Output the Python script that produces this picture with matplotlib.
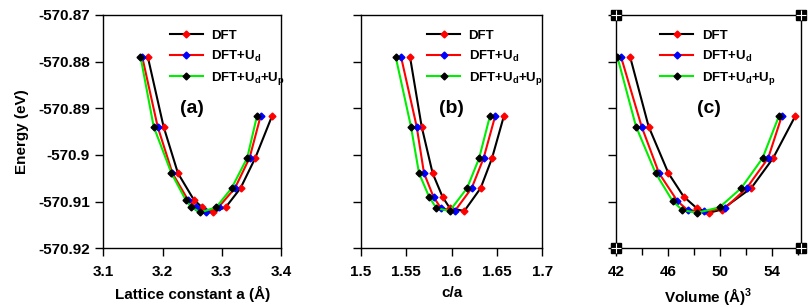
import matplotlib
matplotlib.use("Agg")
import matplotlib.pyplot as plt
from matplotlib.ticker import FixedLocator, FixedFormatter, MultipleLocator

plt.rcParams['font.family'] = ['Liberation Sans', 'DejaVu Sans']
plt.rcParams['font.weight'] = 'bold'
plt.rcParams['mathtext.fontset'] = 'custom'
plt.rcParams['mathtext.rm'] = 'Liberation Sans:bold'
plt.rcParams['mathtext.bf'] = 'Liberation Sans:bold'
plt.rcParams['mathtext.it'] = 'Liberation Sans:bold'

series_labels = ["DFT", r"DFT+U$_\mathbf{d}$", r"DFT+U$_\mathbf{d}$+U$_\mathbf{p}$"]
line_colors = ["black", "red", "#00ee00"]
marker_colors = ["red", "blue", "black"]

# Panel (a): lattice constant a (Å)
a_dft = [3.175, 3.2017, 3.226, 3.2528, 3.2667, 3.2845, 3.3067, 3.3317, 3.3567, 3.385]
a_ud = [3.1656, 3.1917, 3.2167, 3.2428, 3.2567, 3.274, 3.2945, 3.3223, 3.347, 3.3657]
a_udp = [3.1628, 3.185, 3.215, 3.239, 3.2483, 3.264, 3.2907, 3.3167, 3.343, 3.3595]
E_a = [-570.8789, -570.8939, -570.9039, -570.9096, -570.9112, -570.9123,
       -570.9112, -570.9071, -570.9006, -570.8916]

# Panel (b): c/a
ca_dft = [1.554, 1.5669, 1.579, 1.590, 1.598, 1.614, 1.632, 1.6445, 1.6577]
ca_ud = [1.5441, 1.5614, 1.5695, 1.5800, 1.5882, 1.6035, 1.6221, 1.6352, 1.6481]
ca_udp = [1.5382, 1.5551, 1.564, 1.5752, 1.5832, 1.5978, 1.6170, 1.6303, 1.6423]
E_b = [-570.8789, -570.8939, -570.9039, -570.9090, -570.9114, -570.9120,
       -570.9071, -570.9007, -570.8916]

# Panel (c): volume (Å^3)
v_dft = [43.08, 44.51, 46.03, 47.2, 48.21, 49.13, 50.13, 52.4, 54.08, 55.8]
v_ud = [42.38, 43.97, 45.31, 46.73, 47.5, 48.8, 50.38, 52.05, 53.7, 54.76]
v_udp = [42.1, 43.54, 45.05, 46.36, 47.1, 48.24, 49.97, 51.63, 53.27, 54.54]
E_c_dft = [-570.8789, -570.8939, -570.9039, -570.9089, -570.9114, -570.9124,
           -570.9117, -570.9071, -570.9007, -570.8916]
E_c_ud = [-570.8789, -570.8939, -570.9039, -570.9099, -570.9118, -570.9121,
          -570.9114, -570.9071, -570.9007, -570.8916]
E_c_udp = [-570.8789, -570.8939, -570.9039, -570.9099, -570.9118, -570.9124,
           -570.9112, -570.9071, -570.9007, -570.8916]

y_ticks = [-570.92, -570.91, -570.90, -570.89, -570.88, -570.87]
y_ticklabels = ["-570.92", "-570.91", "-570.9", "-570.89", "-570.88", "-570.87"]

xa_ticks = [3.1, 3.2, 3.3, 3.4]
xa_labels = ["3.1", "3.2", "3.3", "3.4"]
xb_ticks = [1.5, 1.55, 1.6, 1.65, 1.7]
xb_labels = ["1.5", "1.55", "1.6", "1.65", "1.7"]
xc_ticks = [42, 46, 50, 54]
xc_labels = ["42", "46", "50", "54"]

W, H = 812, 307
fig = plt.figure(figsize=(W / 100, H / 100), dpi=100)

def ax_at(x0, x1, y0=15, y1=248.3):
    return fig.add_axes([x0 / W, 1 - y1 / H, (x1 - x0) / W, (y1 - y0) / H])

axA = ax_at(103.3, 281)
axB = ax_at(361, 542.3)
axC = ax_at(616, 801)

panels = [
    (axA, [a_dft, a_ud, a_udp], [E_a, E_a, E_a], (3.1, 3.4), xa_ticks, xa_labels,
     "Lattice constant a (\u00c5)", "(a)", 0.345),
    (axB, [ca_dft, ca_ud, ca_udp], [E_b, E_b, E_b], (1.5, 1.7), xb_ticks, xb_labels,
     "c/a", "(b)", 0.335),
    (axC, [v_dft, v_ud, v_udp], [E_c_dft, E_c_ud, E_c_udp], (42, 56.23), xc_ticks, xc_labels,
     "Volume (\u00c5)$^\\mathbf{3}$", "(c)", 0.21),
]

for i, (ax, xs, ys, xlim, xt, xl, xlabel, tag, legx) in enumerate(panels):
    for x, y, lc, mc, lab in zip(xs, ys, line_colors, marker_colors, series_labels):
        ax.plot(x, y, color=lc, lw=1.5, marker='D', ms=3.5, mfc=mc, mec=mc, label=lab)
    ax.set_xlim(*xlim)
    ax.set_ylim(-570.92, -570.87)
    ax.xaxis.set_major_locator(FixedLocator(xt))
    ax.xaxis.set_major_formatter(FixedFormatter(xl))
    ax.yaxis.set_major_locator(FixedLocator(y_ticks))
    if i == 0:
        ax.yaxis.set_major_formatter(FixedFormatter(y_ticklabels))
        ax.set_ylabel("Energy (eV)", fontsize=11, fontweight='bold', labelpad=7)
    else:
        ax.yaxis.set_major_formatter(FixedFormatter([""] * len(y_ticks)))
    if i == 2:
        ax.xaxis.set_minor_locator(MultipleLocator(2))
        ax.tick_params(axis='x', which='minor', direction='out', length=5, width=1)
    ax.tick_params(axis='both', which='major', direction='out', length=6, width=1,
                   labelsize=11)
    ax.tick_params(axis='x', which='major', pad=6)
    ax.tick_params(axis='both', which='both', top=False, right=False)
    for lab in ax.get_xticklabels() + ax.get_yticklabels():
        lab.set_fontweight('bold')
    for s in ax.spines.values():
        s.set_linewidth(1.0)
    ax.set_xlabel(xlabel, fontsize=11, fontweight='bold', labelpad=5)
    ax.text(0.5, 0.6, tag, transform=ax.transAxes, fontsize=14, fontweight='bold',
            ha='center', va='center')
    leg = ax.legend(loc='upper left', bbox_to_anchor=(legx, 0.96), frameon=False,
                    fontsize=9.5, handlelength=2.5, handletextpad=0.65,
                    labelspacing=0.5, borderaxespad=0.0)
    for t in leg.get_texts():
        t.set_fontweight('bold')

# corner handles on panel (c)
for cx, cy in [(0, 0), (1, 0), (0, 1), (1, 1)]:
    axC.plot([cx], [cy], transform=axC.transAxes, marker='s', ms=6.5, color='black',
             clip_on=False, zorder=10)
    axC.plot([cx], [cy], transform=axC.transAxes, marker='+', ms=6.5, mew=0.8,
             color='white', clip_on=False, zorder=11)

fig.savefig("out.png", dpi=100)
